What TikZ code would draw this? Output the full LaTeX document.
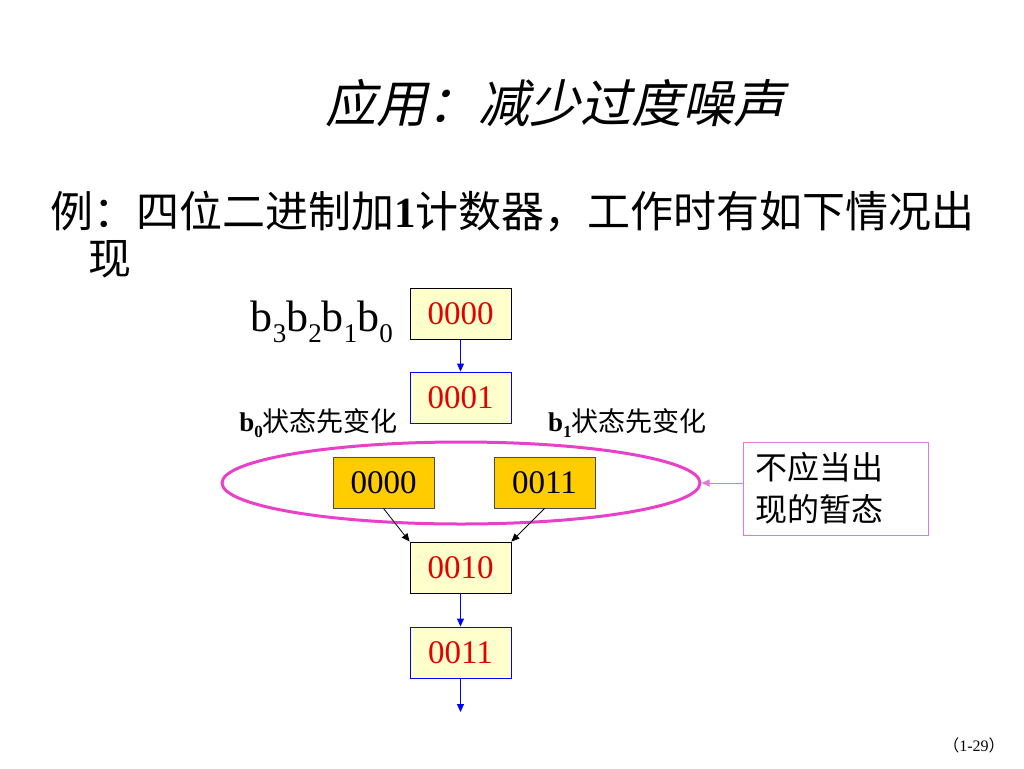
\documentclass[tikz,border=0pt]{standalone}
\usepackage{fontspec}
\setmainfont{Liberation Serif}
\newfontfamily\cjk{Noto Sans CJK SC}
\newfontfamily\cjkit[FakeSlant=0.22]{Noto Sans CJK SC}
\usetikzlibrary{arrows.meta,shapes.geometric}
\definecolor{boxfill}{RGB}{255,255,204}
\definecolor{orangefill}{RGB}{255,204,0}
\definecolor{numred}{RGB}{228,0,0}
\definecolor{mag}{RGB}{232,64,200}
\definecolor{maglight}{RGB}{226,120,220}
\tikzset{
  statebox/.style={draw=black, line width=0.9pt, fill=boxfill, minimum width=101pt, minimum height=51pt, inner sep=0pt, text=numred, font=\fontsize{33}{33}\selectfont},
  bluebox/.style={statebox, draw=blue},
  hotbox/.style={statebox, fill=orangefill, text=black, draw=black!70},
  bluearrow/.style={draw=blue, line width=0.9pt, -{Triangle[length=8pt,width=7pt]}},
  blackarrow/.style={draw=black, line width=0.8pt, -{Triangle[length=8pt,width=7pt]}},
  magarrow/.style={draw=maglight, line width=0.9pt, -{Triangle[length=8pt,width=7pt]}},
}
\begin{document}
\begin{tikzpicture}[x=1pt,y=-1pt]
\useasboundingbox (0,0) rectangle (1024,768);
% title
\node (title) at (555,103) {\cjkit\fontsize{51}{51}\selectfont 应用：减少过度噪声};
% example text
\node[anchor=west, inner sep=0pt] (ex1) at (50,212) {\cjk\fontsize{43}{43}\selectfont 例：四位二进制加{\rmfamily\bfseries 1}计数器，工作时有如下情况出};
\node[anchor=west, inner sep=0pt] (ex2) at (88,259) {\cjk\fontsize{43}{43}\selectfont 现};
% b3b2b1b0
\node[anchor=base east, inner sep=0pt] (bits) at (393,331) {\fontsize{44}{44}\selectfont b\raisebox{-0.25em}{\fontsize{27}{27}\selectfont 3}b\raisebox{-0.25em}{\fontsize{27}{27}\selectfont 2}b\raisebox{-0.25em}{\fontsize{27}{27}\selectfont 1}b\raisebox{-0.25em}{\fontsize{27}{27}\selectfont 0}};
% boxes
\node[statebox] (s0) at (460.5,313.5) {0000};
\node[bluebox] (s1) at (460.5,397.5) {0001};
\node[hotbox] (t0) at (383.5,482.5) {0000};
\node[hotbox] (t3) at (544.5,482.5) {0011};
\node[statebox] (s2) at (460.5,567.5) {0010};
\node[bluebox] (s3) at (460.5,652.5) {0011};
\coordinate (end) at (460.5,712);
% labels
\node[anchor=base east, inner sep=0pt] (lb0) at (398,431) {\fontsize{27}{27}\selectfont\textbf{b}\raisebox{-0.25em}{\fontsize{17}{17}\selectfont\bfseries 0}\cjk 状态先变化};
\node[anchor=base west, inner sep=0pt] (lb1) at (548,431) {\fontsize{27}{27}\selectfont\textbf{b}\raisebox{-0.25em}{\fontsize{17}{17}\selectfont\bfseries 1}\cjk 状态先变化};
% ellipse
\node[ellipse, draw=mag, line width=3pt, minimum width=478pt, minimum height=82pt, inner sep=0pt] (ell) at (461,483) {};
% callout
\node[draw=maglight, line width=0.9pt, text width=162pt, inner xsep=11.5pt, inner ysep=0pt, minimum height=93pt, align=left, font=\cjk\fontsize{32}{42}\selectfont] (note) at (836,488.5) {不应当出\\现的暂态};
% arrows
\draw[bluearrow] (s0) -- (s1);
\draw[blackarrow] (t0.south) -- (s2.north west);
\draw[blackarrow] (t3.south) -- (s2.north east);
\draw[bluearrow] (s2) -- (s3);
\draw[bluearrow] (s3) -- (end);
\draw[magarrow] (note.west |- ell.east) -- (ell.east);
% page number
\node (page) at (974,745) {\fontsize{16}{16}\selectfont{\cjk （}1-29{\cjk ）}};
\end{tikzpicture}
\end{document}
